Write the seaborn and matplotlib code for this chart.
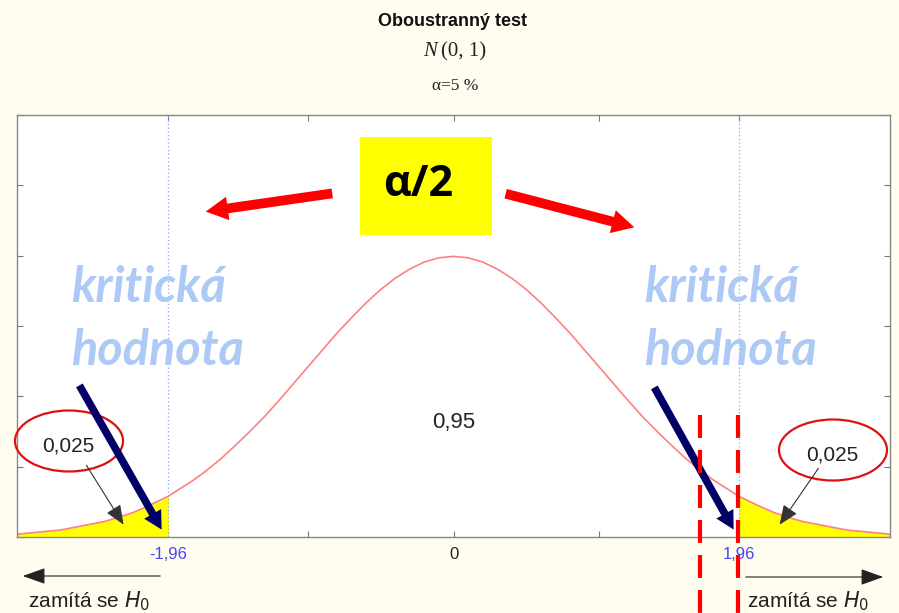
import numpy as np
import pandas as pd
import seaborn as sns
import matplotlib.pyplot as plt
from matplotlib.patches import Ellipse, FancyArrowPatch, Rectangle
from matplotlib.lines import Line2D

# hodnoty hustoty N(0,1)
z_vals = [-3.0, -2.9, -2.8, -2.7, -2.6, -2.5, -2.4, -2.3, -2.2, -2.1, -2.0, -1.96,
          -1.9, -1.8, -1.7, -1.6, -1.5, -1.4, -1.3, -1.2, -1.1, -1.0, -0.9, -0.8,
          -0.7, -0.6, -0.5, -0.4, -0.3, -0.2, -0.1, 0.0,
          0.1, 0.2, 0.3, 0.4, 0.5, 0.6, 0.7, 0.8, 0.9, 1.0, 1.1, 1.2, 1.3, 1.4,
          1.5, 1.6, 1.7, 1.8, 1.9, 1.96, 2.0, 2.1, 2.2, 2.3, 2.4, 2.5, 2.6, 2.7,
          2.8, 2.9, 3.0]
hustota = [0.004, 0.006, 0.008, 0.010, 0.014, 0.018, 0.022, 0.028, 0.035, 0.044,
           0.054, 0.058, 0.066, 0.079, 0.094, 0.111, 0.130, 0.150, 0.171, 0.194,
           0.218, 0.242, 0.266, 0.290, 0.312, 0.333, 0.352, 0.368, 0.381, 0.391,
           0.397, 0.399,
           0.397, 0.391, 0.381, 0.368, 0.352, 0.333, 0.312, 0.290, 0.266, 0.242,
           0.218, 0.194, 0.171, 0.150, 0.130, 0.111, 0.094, 0.079, 0.066, 0.058,
           0.054, 0.044, 0.035, 0.028, 0.022, 0.018, 0.014, 0.010, 0.008, 0.006,
           0.004]
krit = 1.96
tick_pos = [-krit, -1, 0, 1, krit]
tick_txt = ['-1,96', '', '0', '', '1,96']
y_ticks = [0.0, 0.1, 0.2, 0.3, 0.4, 0.5, 0.6]
p_tail = '0,025'
p_mid = '0,95'

df = pd.DataFrame({'z': z_vals, 'f': hustota})

sns.set_style("white")
plt.rcParams['font.family'] = ['Liberation Sans', 'DejaVu Sans']

W, H = 899, 613
fig = plt.figure(figsize=(W / 100, H / 100), dpi=100, facecolor='#fffcf0')


def P(x, y):
    return (x / W, 1 - y / H)


ax = fig.add_axes([17 / W, 1 - 537 / H, (890 - 17) / W, (537 - 115) / H])
ax.set_facecolor('white')

levy = df[df['z'] <= -krit]
pravy = df[df['z'] >= krit]
ax.fill_between(levy['z'], 0, levy['f'], color='#ffff00', lw=0)
ax.fill_between(pravy['z'], 0, pravy['f'], color='#ffff00', lw=0)
sns.lineplot(data=df, x='z', y='f', color='#ff8080', lw=1.2, ax=ax)
for k in (-krit, krit):
    ax.axvline(k, color='#9a9aff', lw=0.9, ls=(0, (1, 2)))

ax.set_xlim(-3, 3)
ax.set_ylim(0, 0.6)
ax.set_xticks(tick_pos)
ax.set_xticklabels(tick_txt, fontsize=12)
for lab, c in zip(ax.get_xticklabels(), ['#4646f0', '#000', '#222', '#000', '#4646f0']):
    lab.set_color(c)
ax.set_yticks(y_ticks)
ax.set_yticklabels([])
ax.tick_params(direction='in', length=4, color='#777', top=True, right=True,
               bottom=True, left=True, pad=7)
ax.set_xlabel('')
ax.set_ylabel('')
for s in ax.spines.values():
    s.set_color('#888')
    s.set_linewidth(1.0)

ax.text(0, 0.163, p_mid, ha='center', va='center', fontsize=16, color='#222')

# nadpisy
fig.text(*P(453, 22), 'Oboustranný test', ha='center', va='center',
         fontsize=13, fontweight='bold', color='#111')
fig.text(*P(437, 52), 'N', ha='right', va='center', fontsize=15, style='italic',
         family='Liberation Serif', color='#222')
fig.text(*P(441, 52), '(0, 1)', ha='left', va='center', fontsize=15,
         family='Liberation Serif', color='#222')
fig.text(*P(455, 86), 'α=5 %', ha='center', va='center', fontsize=12.5,
         family='Liberation Serif', color='#222')

# žlutý rámeček alfa/2
fig.add_artist(Rectangle(P(360, 235), 132 / W, 98 / H, transform=fig.transFigure,
                         facecolor='#ffff00', edgecolor='none'))
fig.text(*P(418, 184), 'α/2', ha='center', va='center', fontsize=31,
         fontweight='bold', family=['Open Sans', 'DejaVu Sans'], color='black')

# červené šipky
for a, b in [((335, 193), (203, 212)), ((503, 193), (637, 228))]:
    fig.add_artist(FancyArrowPatch(P(*a), P(*b), transform=fig.transFigure,
                                   arrowstyle='simple,head_width=17,head_length=16,tail_width=7',
                                   color='#ff0000', lw=0))

# kritická hodnota
for x0 in (71, 644):
    fig.text(*P(x0, 302), 'kritická', ha='left', va='baseline', fontsize=35,
             fontweight='bold', style='italic', family=['Lato', 'DejaVu Sans'],
             color='#adc9f6')
    fig.text(*P(x0, 365), 'hodnota', ha='left', va='baseline', fontsize=35,
             fontweight='bold', style='italic', family=['Lato', 'DejaVu Sans'],
             color='#adc9f6')

# elipsy s 0,025
for cx, cy in [(69, 441), (833, 450)]:
    fig.add_artist(Ellipse(P(cx, cy), 108 / W, 61 / H, transform=fig.transFigure,
                           fill=False, edgecolor='#e01010', lw=1.6))
    fig.text(*P(cx - 1, cy + 5), p_tail, ha='center', va='center', fontsize=15, color='#222')

for a, b in [((85, 463), (125, 527)), ((820, 466), (778, 527))]:
    fig.add_artist(FancyArrowPatch(P(*a), P(*b), transform=fig.transFigure,
                                   arrowstyle='-|>,head_length=12,head_width=5',
                                   color='#333', lw=0.8))

# tmavě modré šipky
for a, b in [((78, 383), (163, 532)), ((653, 385), (735, 532))]:
    fig.add_artist(FancyArrowPatch(P(*a), P(*b), transform=fig.transFigure,
                                   arrowstyle='simple,head_width=14,head_length=13,tail_width=5.5',
                                   color='#000066', lw=0))

# červené čárkované čáry
for xx in (700, 738):
    fig.add_artist(Line2D([xx / W, xx / W], [1 - 415 / H, 0], transform=fig.transFigure,
                          color='#ff0000', lw=3, ls=(0, (5.5, 2.9))))

# zamítá se H0
for a, b in [((163, 576), (20, 576)), ((743, 577), (886, 577))]:
    fig.add_artist(FancyArrowPatch(P(*a), P(*b), transform=fig.transFigure,
                                   arrowstyle='-|>,head_length=14,head_width=5',
                                   color='#222', lw=0.8))
for x0 in (28, 747):
    fig.text(*P(x0, 607), r'zamítá se $H_0$', ha='left', va='baseline',
             fontsize=15, color='#222')

fig.savefig('out.png', dpi=100, facecolor=fig.get_facecolor())
